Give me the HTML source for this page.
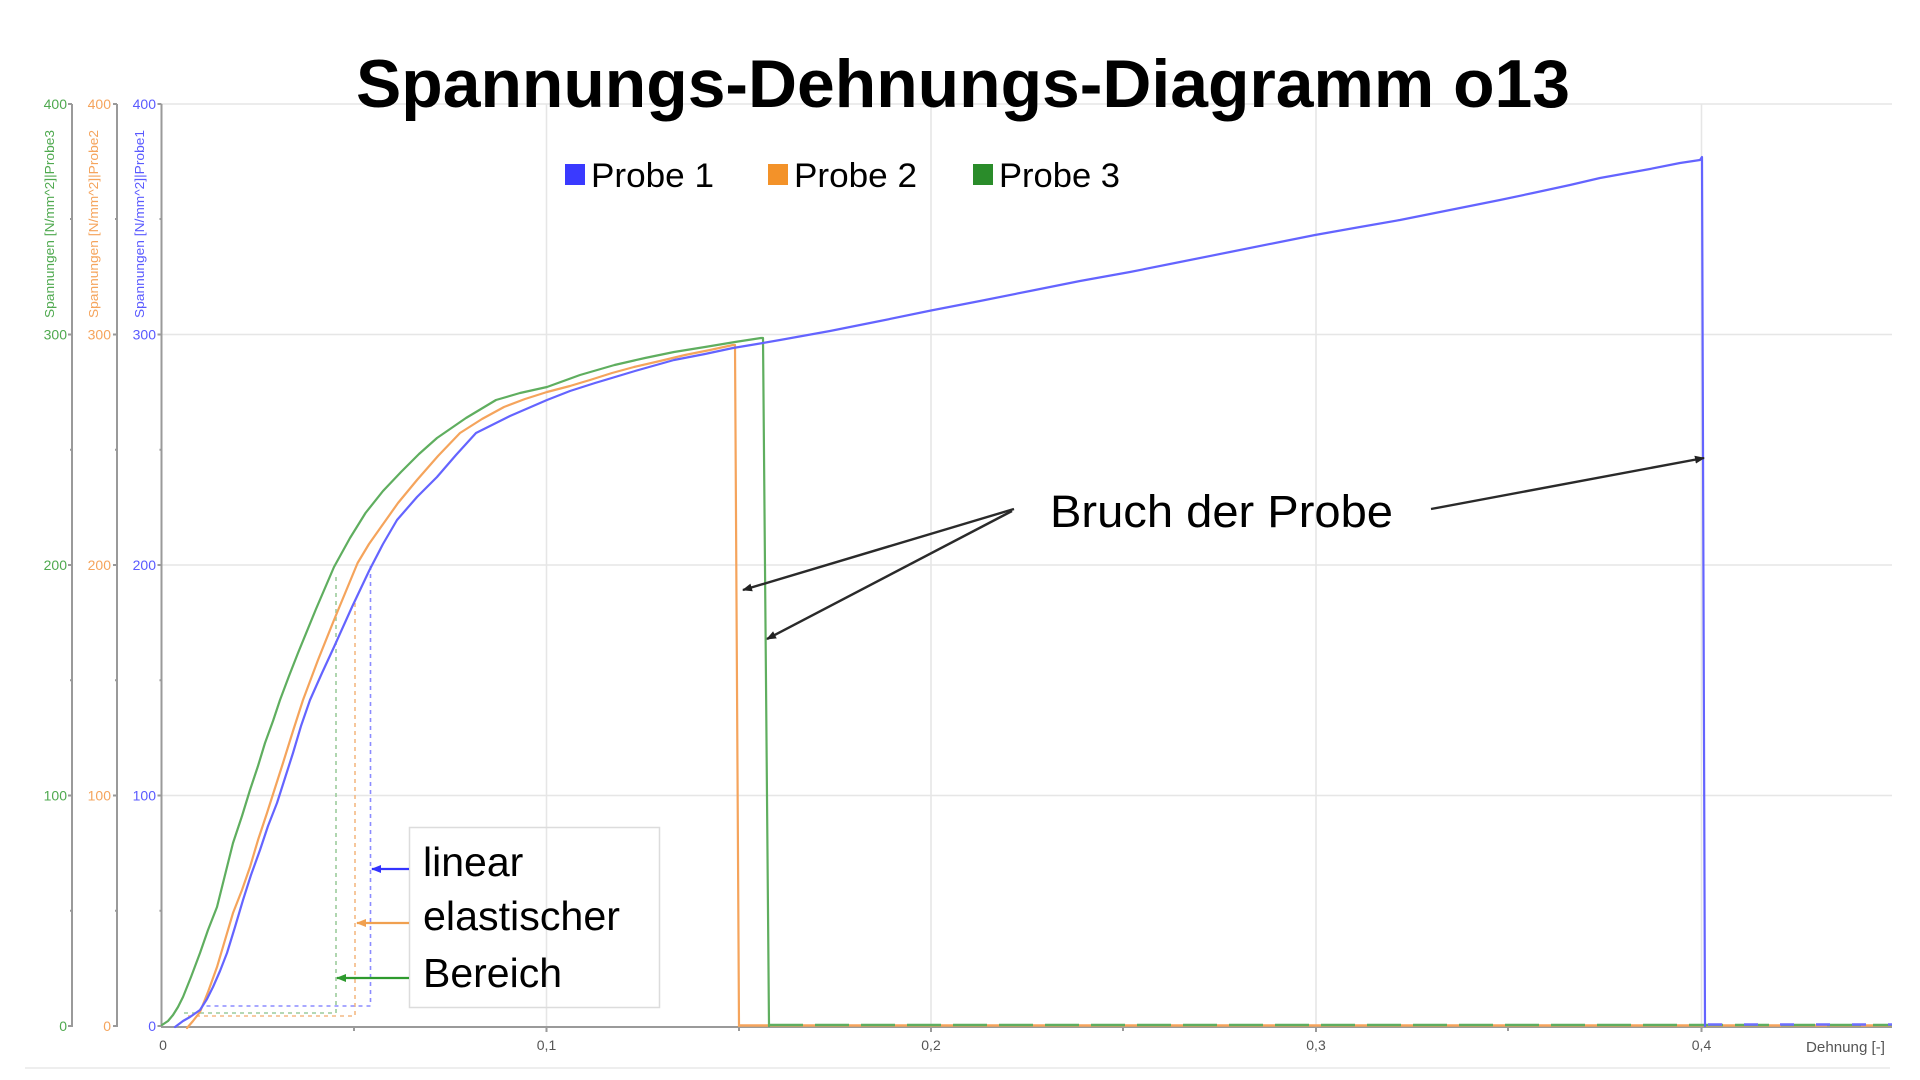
<!DOCTYPE html>
<html>
<head>
<meta charset="utf-8">
<style>
  html,body{margin:0;padding:0;background:#fff;}
  svg{display:block;}
  text{font-family:"Liberation Sans",sans-serif;}
</style>
</head>
<body>
<svg width="1920" height="1080" viewBox="0 0 1920 1080" xmlns="http://www.w3.org/2000/svg">
  <rect x="0" y="0" width="1920" height="1080" fill="#fff"/>

  <!-- grid lines -->
  <g stroke="#e6e6e6" stroke-width="1.6" fill="none">
    <line x1="162" y1="104" x2="1892" y2="104"/>
    <line x1="162" y1="334.5" x2="1892" y2="334.5"/>
    <line x1="162" y1="565" x2="1892" y2="565"/>
    <line x1="162" y1="795.5" x2="1892" y2="795.5"/>
    <line x1="546.5" y1="104" x2="546.5" y2="1026"/>
    <line x1="931" y1="104" x2="931" y2="1026"/>
    <line x1="1316" y1="104" x2="1316" y2="1026"/>
    <line x1="1701.5" y1="104" x2="1701.5" y2="1026"/>
  </g>

  <!-- bottom light line -->
  <line x1="25" y1="1068" x2="1890" y2="1068" stroke="#eeeeee" stroke-width="2"/>

  <!-- Y axes -->
  <g stroke="#9a9a9a" stroke-width="2" fill="none">
    <line x1="72" y1="104" x2="72" y2="1027"/>
    <line x1="117" y1="104" x2="117" y2="1027"/>
    <line x1="161.5" y1="104" x2="161.5" y2="1027"/>
    <path d="M68 104H72 M68 334.5H72 M68 565H72 M68 795.5H72 M68 1026H72"/>
    <path d="M113 104H117 M113 334.5H117 M113 565H117 M113 795.5H117 M113 1026H117"/>
    <path d="M157.5 104H161.5 M157.5 334.5H161.5 M157.5 565H161.5 M157.5 795.5H161.5 M157.5 1026H161.5"/>
    <path d="M70 219H72 M70 449.7H72 M70 680.2H72 M70 910.7H72"/>
    <path d="M115 219H117 M115 449.7H117 M115 680.2H117 M115 910.7H117"/>
    <path d="M159.5 219H161.5 M159.5 449.7H161.5 M159.5 680.2H161.5 M159.5 910.7H161.5"/>
  </g>

  <!-- X axis -->
  <g stroke="#9a9a9a" stroke-width="2" fill="none">
    <line x1="161" y1="1027" x2="1892" y2="1027"/>
    <path d="M354 1027V1031 M546.5 1027V1032 M739 1027V1031 M931 1027V1032 M1123 1027V1031 M1316 1027V1032 M1508 1027V1031 M1701.5 1027V1032"/>
  </g>

  <!-- Y tick labels -->
  <g font-size="14" text-anchor="end">
    <g fill="#4fa94f">
      <text x="67" y="109">400</text>
      <text x="67" y="339.5">300</text>
      <text x="67" y="570">200</text>
      <text x="67" y="800.5">100</text>
      <text x="67" y="1031">0</text>
    </g>
    <g fill="#f5a45c">
      <text x="111" y="109">400</text>
      <text x="111" y="339.5">300</text>
      <text x="111" y="570">200</text>
      <text x="111" y="800.5">100</text>
      <text x="111" y="1031">0</text>
    </g>
    <g fill="#5a5aff">
      <text x="156" y="109">400</text>
      <text x="156" y="339.5">300</text>
      <text x="156" y="570">200</text>
      <text x="156" y="800.5">100</text>
      <text x="156" y="1031">0</text>
    </g>
  </g>

  <!-- rotated axis titles -->
  <g font-size="12.5" text-anchor="middle">
    <text transform="translate(54,224) rotate(-90)" fill="#4fa94f" textLength="188" lengthAdjust="spacingAndGlyphs">Spannungen [N/mm^2]|Probe3</text>
    <text transform="translate(98,224) rotate(-90)" fill="#f5a45c" textLength="188" lengthAdjust="spacingAndGlyphs">Spannungen [N/mm^2]|Probe2</text>
    <text transform="translate(144,224) rotate(-90)" fill="#5a5aff" textLength="188" lengthAdjust="spacingAndGlyphs">Spannungen [N/mm^2]|Probe1</text>
  </g>

  <!-- X tick labels -->
  <g font-size="14" fill="#555" text-anchor="middle">
    <text x="163" y="1050">0</text>
    <text x="546.5" y="1050">0,1</text>
    <text x="931" y="1050">0,2</text>
    <text x="1316" y="1050">0,3</text>
    <text x="1701.5" y="1050">0,4</text>
  </g>
  <text x="1885" y="1052" font-size="14.5" fill="#555" text-anchor="end" textLength="79" lengthAdjust="spacingAndGlyphs">Dehnung [-]</text>

  <!-- dashed elastic region markers -->
  <g fill="none" stroke-width="1.6" stroke-dasharray="4,4">
    <path d="M336 577 V1013 H182" stroke="#9ccc9c"/>
    <path d="M355 603 V1016 H186" stroke="#f3b984"/>
    <path d="M370.5 566 V1006 H205" stroke="#8c8cff"/>
  </g>

  <!-- baseline noise after break -->
  <g fill="none" stroke-width="2.4">
    <line x1="739" y1="1025.5" x2="1892" y2="1025.5" stroke="#f5a45c"/>
    <line x1="769" y1="1025" x2="1892" y2="1025" stroke="#5fae5f" stroke-dasharray="34,12"/>
    <line x1="1708" y1="1024.5" x2="1892" y2="1024.5" stroke="#6e6eff" stroke-dasharray="14,22"/>
  </g>

  <!-- Curves -->
  <g fill="none" stroke-width="2.2" stroke-linejoin="round" stroke-linecap="round">
    <!-- Probe 2 orange -->
    <polyline stroke="#f5a45c" points="187,1028 193,1021 200,1012 208,992 217,967 225,940 233,913 242,890 250,867 258,840 267,813 275,788 283,763 293,731 303,700 318,660 334,620 346,591 357.6,563 369,544 381,527 398,503 417,480 438,456 460,433 482,419 504,407 525,399 547,392 570,386 590,380 612,373 634,367 660,361 685,355 710,350 733,345 735,345 739,1026"/>
    <!-- Probe 3 green -->
    <polyline stroke="#5fae5f" points="162,1025 168,1021 173,1015 178,1007 183,997 191,977 200,953 208,930 217,907 225,875 233,843 242,816 250,790 258,766 265,743 273,721 280,700 289,676 298,653 316,609 334,567 350,538 365.5,513 383,491 401,472 419,454 437,438 466,418 496,400 520,393 547,387 580,375 614.5,365 645,358 674,352 705,347 735,342 761,338 763,338 769,1026"/>
    <!-- Probe 1 blue -->
    <polyline stroke="#6464ff" points="175,1027 183,1021 190,1017 200,1010 207,999 213,987 220,971 227,953 235,927 243,900 251,875 260,850 268,826 277,803 285,778 293,753 301,726 310,700 322,673 334,647 352,607 369.5,570 383,544 397,520 417,497 437,477 456,455 476,433 510,416 547,400 570,391 595,383 635,371 674,360 705,354 733,348 757,344 780,340 830,331 880,321 931,310.5 980,301 1030,291 1080,281 1130,272 1180,262 1230,252 1280,242 1315,235 1360,227 1400,220 1450,210 1500,200 1533,193 1570,185 1600,178 1650,169 1680,163 1700,160 1702,157 1705,1026"/>
  </g>

  <!-- Title -->
  <text x="963" y="107" font-size="68" font-weight="bold" fill="#000" text-anchor="middle" textLength="1214" lengthAdjust="spacingAndGlyphs">Spannungs-Dehnungs-Diagramm o13</text>

  <!-- Legend -->
  <rect x="565" y="164" width="20" height="21" fill="#3a3aff"/>
  <text x="591" y="187" font-size="34" fill="#000" textLength="123" lengthAdjust="spacingAndGlyphs">Probe 1</text>
  <rect x="768" y="164" width="20" height="21" fill="#f39229"/>
  <text x="794" y="187" font-size="34" fill="#000" textLength="123" lengthAdjust="spacingAndGlyphs">Probe 2</text>
  <rect x="973" y="164" width="20" height="21" fill="#2a8c2a"/>
  <text x="999" y="187" font-size="34" fill="#000" textLength="121" lengthAdjust="spacingAndGlyphs">Probe 3</text>

  <defs>
    <marker id="ah" markerWidth="10" markerHeight="8" refX="9" refY="4" orient="auto" markerUnits="userSpaceOnUse">
      <path d="M0,0 L10,4 L0,8 z" fill="#222"/>
    </marker>
    <marker id="ahb" markerWidth="10" markerHeight="8" refX="9" refY="4" orient="auto" markerUnits="userSpaceOnUse">
      <path d="M0,0 L10,4 L0,8 z" fill="#3333ff"/>
    </marker>
    <marker id="aho" markerWidth="10" markerHeight="8" refX="9" refY="4" orient="auto" markerUnits="userSpaceOnUse">
      <path d="M0,0 L10,4 L0,8 z" fill="#f0a050"/>
    </marker>
    <marker id="ahg" markerWidth="10" markerHeight="8" refX="9" refY="4" orient="auto" markerUnits="userSpaceOnUse">
      <path d="M0,0 L10,4 L0,8 z" fill="#2e9a2e"/>
    </marker>
  </defs>
  <text x="1050" y="527" font-size="45" fill="#000" textLength="343" lengthAdjust="spacingAndGlyphs">Bruch der Probe</text>
  <g stroke="#2a2a2a" stroke-width="2.4" fill="none">
    <line x1="1014" y1="509" x2="743" y2="590" marker-end="url(#ah)"/>
    <line x1="1012" y1="511" x2="767" y2="639" marker-end="url(#ah)"/>
    <line x1="1431" y1="509" x2="1704" y2="458" marker-end="url(#ah)"/>
  </g>

  <!-- linear elastischer Bereich box -->
  <rect x="409.5" y="827.5" width="250" height="180" fill="none" stroke="#dcdcdc" stroke-width="1.5"/>
  <g font-size="41" fill="#000">
    <text x="423" y="876">linear</text>
    <text x="423" y="930" textLength="197" lengthAdjust="spacingAndGlyphs">elastischer</text>
    <text x="423" y="987">Bereich</text>
  </g>
  <g stroke-width="2.2" fill="none">
    <line x1="409" y1="869" x2="372" y2="869" stroke="#3333ff" marker-end="url(#ahb)"/>
    <line x1="409" y1="923" x2="357" y2="923" stroke="#f0a050" marker-end="url(#aho)"/>
    <line x1="409" y1="978" x2="337" y2="978" stroke="#2e9a2e" marker-end="url(#ahg)"/>
  </g>
</svg>
</body>
</html>
